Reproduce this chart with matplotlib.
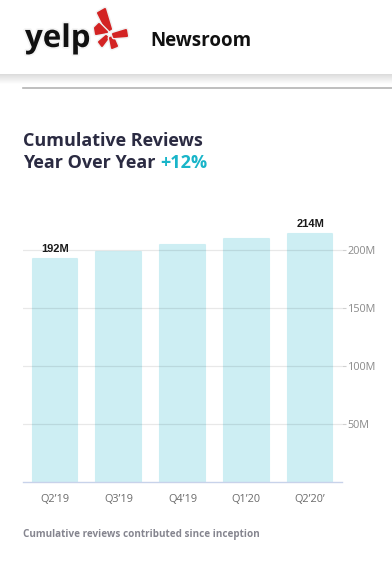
import numpy as np
import matplotlib
matplotlib.use("Agg")
import matplotlib.pyplot as plt
from matplotlib.patches import Polygon
from matplotlib.lines import Line2D
import matplotlib.patheffects as pe

quarters = ["Q2\u201919", "Q3\u201919", "Q4\u201919", "Q1\u201920", "Q2\u201920\u2019"]
reviews = [192, 198, 204, 209, 214]          # millions
label_idx = [0, 4]                           # bars that carry a value label
yticks = [50, 100, 150, 200]
ytick_labels = ["50M", "100M", "150M", "200M"]

W, H = 392, 573
plt.rcParams["font.family"] = ["Open Sans", "DejaVu Sans"]

fig = plt.figure(figsize=(W / 100, H / 100), dpi=100)
fig.patch.set_facecolor("white")


def fx(px):
    return px / W


def fy(py):
    return 1 - py / H


# header shadow
sh = fig.add_axes([0, fy(84), 1, (84 - 74) / H])
grad = np.linspace(0.86, 1.0, 50).reshape(-1, 1)
sh.imshow(np.dstack([grad, grad, grad]), aspect="auto", extent=[0, 1, 0, 1])
sh.axis("off")

fig.add_artist(Line2D([fx(23), 1], [fy(87.5), fy(87.5)], color="#b4b4b4", lw=1.2))

# logo
fig.text(fx(25), fy(47), "yelp", fontsize=22.5, fontweight="bold", color="#111111",
         path_effects=[pe.withStroke(linewidth=2.5, foreground="#f4f4f4")])
red = "#d32323"
petals = [
    [(98, 13), (105, 9), (111, 29), (107, 31)],
    [(95, 28), (99, 24), (107, 32), (96, 34)],
    [(99, 42), (106, 36), (108, 38), (102, 46)],
    [(110, 38), (113, 37), (117, 46), (112, 48)],
    [(113, 34), (126, 30), (127, 36), (114, 37)],
]
for p in petals:
    fig.add_artist(Polygon([(fx(x), fy(y)) for x, y in p], closed=True, fc=red, ec=red,
                           lw=1.5, joinstyle="round",
                           path_effects=[pe.withStroke(linewidth=3.5, foreground="#f0f0f0")]))

fig.text(fx(150), fy(46), "Newsroom", fontsize=13.5, fontweight="bold", color="#111111")

# title
fig.text(fx(23), fy(146), "Cumulative Reviews", fontsize=13, fontweight="bold", color="#2b2b42")
t = fig.text(fx(23), fy(168), "Year Over Year ", fontsize=13, fontweight="bold", color="#2b2b42")
fig.canvas.draw()
bb = t.get_window_extent()
fig.text(bb.x1 / fig.dpi / fig.get_figwidth(), fy(168), "+12%", fontsize=13,
         fontweight="bold", color="#19b5c9")

# chart
ax = fig.add_axes([fx(23), fy(482), fx(342 - 23), (482 - 215) / H])
x = np.arange(len(quarters))
ax.bar(x, reviews, width=0.70, color="#cdeef3", edgecolor="#cdeef3", lw=1.5,
       joinstyle="round", zorder=1)
ax.set_xlim(-0.5, len(quarters) - 0.5)
ax.set_ylim(0, 230)
ax.set_yticks(yticks)
ax.set_yticklabels(ytick_labels)
ax.yaxis.tick_right()
ax.grid(axis="y", color="#000000", alpha=0.09, lw=0.9, zorder=3)
ax.set_axisbelow(False)
ax.tick_params(axis="y", length=3, color="#d0d0d0", pad=1, labelsize=7.8,
               labelcolor="#8a8a8a")
ax.set_xticks(x)
ax.set_xticklabels(quarters)
ax.tick_params(axis="x", length=0, pad=9, labelsize=7.8, labelcolor="#6a6a6a")
for s in ["top", "left", "right"]:
    ax.spines[s].set_visible(False)
ax.spines["bottom"].set_color("#c8d2ea")
ax.spines["bottom"].set_linewidth(1)

for i in label_idx:
    ax.annotate(f"{reviews[i]}M", (x[i], reviews[i]), xytext=(0, 3.5),
                textcoords="offset points", ha="center", va="bottom", fontsize=8,
                fontweight="bold", color="#1a1a1a", family=["Liberation Sans"])

fig.text(fx(23), fy(534), "Cumulative reviews contributed since inception", fontsize=7.1,
         fontweight="bold", color="#85858f", va="center")

fig.savefig("out.png", dpi=100)
